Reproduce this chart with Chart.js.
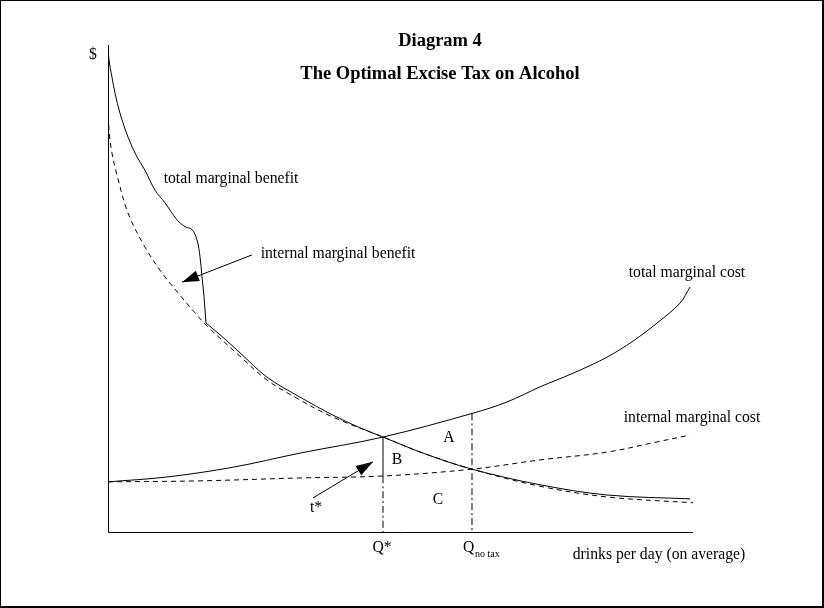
<!DOCTYPE html>
<html>
<head>
<meta charset="utf-8">
<script src="https://cdn.jsdelivr.net/npm/chart.js@4/dist/chart.umd.min.js"></script>
<style>
  html, body { margin: 0; padding: 0; background: #fff; }
  #wrap { width: 824px; height: 608px; position: relative; }
</style>
</head>
<body>
<div id="wrap"><canvas id="chart" width="824" height="608"></canvas></div>
<script>
// drinks per day (x) and $ (y), arbitrary units 0..10
// total marginal benefit: upper part (with the external bump) and lower part
const totalBenefitTopX = [0, 0.017, 0.068, 0.12, 0.205, 0.342, 0.496, 0.632, 0.803, 0.974, 1.179, 1.316, 1.436, 1.521, 1.573, 1.607, 1.641, 1.675];
const totalBenefitTopY = [10.0, 9.69, 9.34, 9.01, 8.60, 8.11, 7.70, 7.43, 7.02, 6.76, 6.41, 6.27, 6.21, 6.00, 5.65, 5.24, 4.83, 4.29];
const totalBenefitLowX = [1.675, 1.915, 2.256, 2.718, 3.282, 3.846, 4.308, 4.701, 5.385, 6.222, 7.385, 8.53, 9.949];
const totalBenefitLowY = [4.29, 4.05, 3.68, 3.18, 2.77, 2.40, 2.14, 1.95, 1.62, 1.29, 0.97, 0.76, 0.68];

const internalBenefitX = [0, 0.017, 0.068, 0.154, 0.342, 0.632, 0.923, 1.197, 1.487, 1.709, 2.256, 2.718, 3.282, 3.846, 4.701, 5.385, 6.222, 7.385, 8.53, 10.0];
const internalBenefitY = [8.91, 8.25, 7.78, 7.33, 6.55, 5.85, 5.32, 4.91, 4.50, 4.21, 3.61, 3.12, 2.71, 2.36, 1.95, 1.62, 1.29, 0.94, 0.72, 0.60];

const totalCostX = [0, 1.009, 2.137, 3.282, 4.701, 6.239, 6.821, 7.385, 7.949, 8.53, 8.974, 9.385, 9.778, 9.949];
const totalCostY = [1.03, 1.13, 1.33, 1.62, 1.95, 2.44, 2.67, 2.98, 3.26, 3.59, 3.92, 4.29, 4.70, 5.03];

const internalCostX = [0, 1.573, 3.282, 4.701, 6.222, 7.385, 8.53, 9.385, 9.949];
const internalCostY = [1.03, 1.05, 1.11, 1.15, 1.29, 1.48, 1.64, 1.85, 1.99];

// Q* and Q no tax
const qStar = 4.701;
const qNoTax = 6.222;
const qStarTop = 1.95, qStarTax = 1.15, qNoTaxTop = 2.44;

const pts = (xs, ys) => xs.map((x, i) => ({ x: x, y: ys[i] }));

const labels = [
  { text: 'total marginal benefit', x: 2.103, y: 7.25 },
  { text: 'internal marginal benefit', x: 3.932, y: 5.71 },
  { text: 'total marginal cost', x: 9.897, y: 5.32 },
  { text: 'internal marginal cost', x: 9.983, y: 2.34 },
  { text: 'A', x: 5.829, y: 1.93 },
  { text: 'B', x: 4.94, y: 1.48 },
  { text: 'C', x: 5.641, y: 0.66 },
  { text: 't*', x: 3.556, y: 0.49 },
  { text: 'Q*', x: 4.684, y: -0.33 },
  { text: 'drinks per day (on average)', x: 9.419, y: -0.47 },
  { text: '$', x: -0.256, y: 9.79 }
];
const arrows = [
  { from: [2.462, 5.69], to: [1.265, 5.13] },
  { from: [3.504, 0.70], to: [4.53, 1.44] }
];

const serif = '"Liberation Serif", "Times New Roman", serif';

const solid = (data) => ({
  data: data, showLine: true, borderColor: '#000', borderWidth: 1,
  pointRadius: 0, tension: 0.35, fill: false
});
const dashed = (data) => Object.assign(solid(data), { borderDash: [5, 4] });
const dashDot = (data) => Object.assign(solid(data), { borderDash: [7, 3, 2, 3] });

const decor = {
  id: 'decor',
  afterDatasetsDraw(chart) {
    const ctx = chart.ctx;
    const sx = chart.scales.x, sy = chart.scales.y;
    const a = chart.chartArea;
    ctx.save();
    // axes
    ctx.strokeStyle = '#000';
    ctx.lineWidth = 1;
    ctx.beginPath();
    ctx.moveTo(Math.round(a.left) + 0.5, a.top);
    ctx.lineTo(Math.round(a.left) + 0.5, Math.round(a.bottom) + 0.5);
    ctx.lineTo(a.right, Math.round(a.bottom) + 0.5);
    ctx.stroke();

    // arrows
    ctx.fillStyle = '#000';
    arrows.forEach(ar => {
      const x1 = sx.getPixelForValue(ar.from[0]), y1 = sy.getPixelForValue(ar.from[1]);
      const x2 = sx.getPixelForValue(ar.to[0]), y2 = sy.getPixelForValue(ar.to[1]);
      const ang = Math.atan2(y2 - y1, x2 - x1);
      ctx.beginPath();
      ctx.moveTo(x1, y1);
      ctx.lineTo(x2, y2);
      ctx.stroke();
      const len = 17, half = 5.5;
      const bx = x2 - len * Math.cos(ang), by = y2 - len * Math.sin(ang);
      ctx.beginPath();
      ctx.moveTo(x2, y2);
      ctx.lineTo(bx + half * Math.sin(ang), by - half * Math.cos(ang));
      ctx.lineTo(bx - half * Math.sin(ang), by + half * Math.cos(ang));
      ctx.closePath();
      ctx.fill();
    });

    // labels
    ctx.textAlign = 'center';
    ctx.textBaseline = 'middle';
    ctx.font = '15.7px ' + serif;
    labels.forEach(l => {
      ctx.fillText(l.text, sx.getPixelForValue(l.x), sy.getPixelForValue(l.y));
    });
    // Q with subscript "no tax"
    const qx = sx.getPixelForValue(qNoTax), qy = sy.getPixelForValue(-0.33);
    ctx.textAlign = 'left';
    ctx.fillText('Q', qx - 9, qy);
    ctx.font = '10px ' + serif;
    ctx.fillText('no tax', qx + 3, qy + 6);

    // titles
    ctx.textAlign = 'center';
    ctx.font = 'bold 18.5px ' + serif;
    ctx.fillText('Diagram 4', 440, 41);
    ctx.fillText('The Optimal Excise Tax on Alcohol', 440, 74);

    // frame
    ctx.lineWidth = 1;
    ctx.strokeRect(0.5, 0.5, chart.width - 2, chart.height - 2);
    ctx.lineWidth = 2;
    ctx.beginPath();
    ctx.moveTo(chart.width - 1, 0);
    ctx.lineTo(chart.width - 1, chart.height - 1);
    ctx.lineTo(0, chart.height - 1);
    ctx.stroke();
    ctx.restore();
  }
};

new Chart(document.getElementById('chart'), {
  type: 'scatter',
  data: {
    datasets: [
      solid(pts(totalBenefitTopX, totalBenefitTopY)),
      solid(pts(totalBenefitLowX, totalBenefitLowY)),
      dashed(pts(internalBenefitX, internalBenefitY)),
      solid(pts(totalCostX, totalCostY)),
      dashed(pts(internalCostX, internalCostY)),
      solid([{ x: qStar, y: qStarTop }, { x: qStar, y: qStarTax }]),
      dashDot([{ x: qStar, y: qStarTax }, { x: qStar, y: 0 }]),
      dashDot([{ x: qNoTax, y: qNoTaxTop }, { x: qNoTax, y: 0 }])
    ]
  },
  options: {
    responsive: false,
    animation: false,
    layout: { padding: { left: 108, right: 131, top: 45, bottom: 76 } },
    plugins: { legend: { display: false }, tooltip: { enabled: false }, title: { display: false } },
    scales: {
      x: { type: 'linear', min: 0, max: 10, display: false },
      y: { type: 'linear', min: 0, max: 10, display: false }
    }
  },
  plugins: [decor]
});
</script>
</body>
</html>
